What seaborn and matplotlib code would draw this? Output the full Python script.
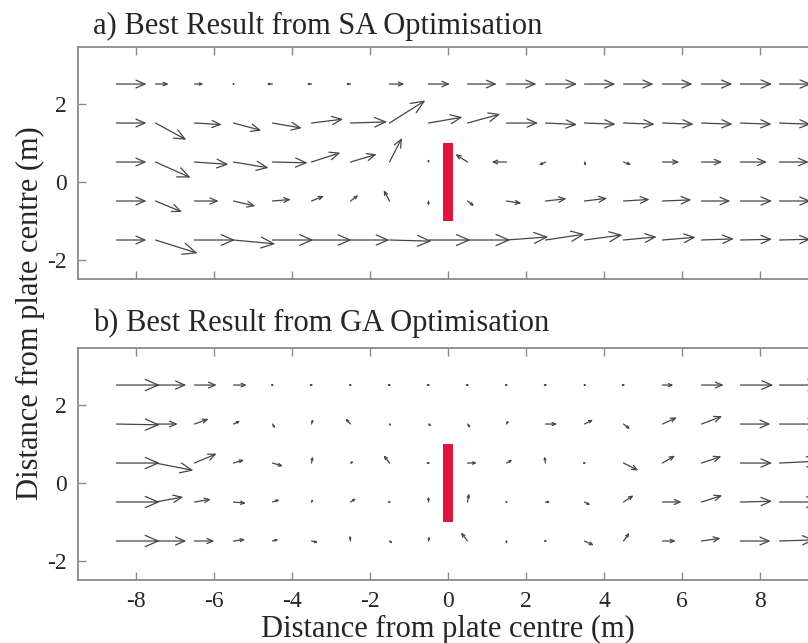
import matplotlib
matplotlib.use("Agg")
import matplotlib.pyplot as plt
from matplotlib.patches import Rectangle
import numpy as np
import seaborn as sns

# grid of measurement points (m)
x_cols = [-8.5, -7.5, -6.5, -5.5, -4.5, -3.5, -2.5, -1.5, -0.5,
          0.5, 1.5, 2.5, 3.5, 4.5, 5.5, 6.5, 7.5, 8.5]
y_rows = [2.5, 1.5, 0.5, -0.5, -1.5]

# velocity components, one list per row (top row first)
sa_u = [
    [0.77, 0.34, 0.23, 0.02, -0.15, -0.12, -0.12, 0.38, 0.55, 0.75, 0.77, 0.81, 0.79, 0.77, 0.77, 0.79, 0.81, 0.81],
    [0.77, 0.79, 0.70, 0.71, 0.75, 0.81, 0.94, 0.92, 0.87, 0.84, 0.81, 0.81, 0.80, 0.80, 0.80, 0.80, 0.80, 0.80],
    [0.77, 0.90, 0.87, 0.90, 0.90, 0.74, 0.67, 0.32, 0.00, -0.31, -0.38, -0.17, 0.03, 0.20, 0.43, 0.53, 0.68, 0.75],
    [0.77, 0.68, 0.62, 0.56, 0.47, 0.32, 0.20, -0.15, 0.00, 0.17, 0.38, 0.54, 0.58, 0.67, 0.74, 0.74, 0.81, 0.80],
    [0.77, 1.08, 1.04, 1.07, 1.05, 1.03, 1.00, 1.08, 1.08, 1.10, 1.07, 1.00, 0.97, 0.85, 0.85, 0.83, 0.81, 0.80],
]
sa_v = [
    [0.00, 0.00, 0.00, 0.04, 0.00, 0.00, 0.00, 0.00, 0.00, 0.00, 0.00, 0.00, 0.00, 0.00, 0.00, 0.00, 0.00, 0.00],
    [0.00, -0.43, -0.04, -0.19, -0.13, 0.10, 0.03, 0.58, 0.15, 0.23, 0.00, -0.04, -0.03, -0.03, -0.03, -0.03, -0.03, -0.03],
    [0.00, -0.40, -0.06, -0.15, -0.02, 0.24, 0.20, 0.62, 0.08, 0.20, 0.00, -0.08, -0.10, -0.07, 0.00, 0.00, 0.00, 0.00],
    [0.00, -0.28, 0.00, -0.13, 0.04, 0.13, 0.15, 0.28, -0.12, -0.13, -0.06, 0.06, 0.07, 0.04, 0.03, 0.00, 0.00, 0.00],
    [0.00, -0.34, 0.00, -0.10, 0.00, 0.00, 0.00, -0.03, 0.00, 0.00, 0.08, 0.15, 0.13, 0.08, 0.07, 0.03, 0.02, 0.02],
]
ga_u = [
    [1.11, 0.79, 0.57, 0.34, 0.03, 0.02, 0.03, 0.02, 0.02, 0.02, 0.03, 0.02, 0.05, 0.02, 0.28, 0.57, 0.84, 1.10],
    [1.11, 0.57, 0.36, 0.17, 0.07, 0.04, -0.13, 0.05, 0.08, 0.08, 0.05, 0.30, 0.22, 0.17, 0.37, 0.53, 0.77, 1.10],
    [1.11, 0.97, 0.57, 0.27, 0.27, 0.03, 0.08, -0.15, 0.02, 0.24, 0.15, -0.03, 0.03, 0.38, 0.32, 0.51, 0.81, 1.05],
    [1.11, 0.71, 0.42, 0.32, 0.18, 0.04, 0.14, 0.03, 0.00, 0.04, 0.03, 0.12, 0.15, 0.26, 0.49, 0.53, 0.81, 1.05],
    [1.11, 0.79, 0.51, 0.30, 0.15, 0.17, -0.02, 0.08, 0.02, -0.17, 0.00, 0.03, 0.24, 0.15, 0.34, 0.49, 0.77, 0.90],
]
ga_v = [
    [0.00, 0.00, 0.00, 0.00, 0.00, 0.00, 0.00, 0.00, 0.00, 0.00, 0.00, 0.00, 0.00, 0.00, 0.00, 0.00, 0.00, 0.00],
    [-0.02, 0.00, 0.13, 0.08, -0.11, 0.13, 0.14, -0.05, -0.05, -0.10, 0.10, 0.00, 0.11, -0.13, 0.17, 0.20, 0.00, 0.00],
    [0.00, -0.19, 0.24, 0.08, -0.08, 0.17, 0.04, 0.20, 0.00, 0.00, 0.08, 0.17, 0.00, -0.19, 0.19, 0.17, 0.00, 0.05],
    [0.00, 0.13, 0.07, -0.03, 0.06, 0.07, 0.09, 0.00, 0.14, 0.22, -0.03, 0.00, -0.08, 0.17, 0.00, 0.17, 0.02, 0.00],
    [0.00, 0.00, 0.00, 0.04, 0.04, -0.04, 0.14, -0.06, 0.12, 0.22, -0.07, 0.00, -0.11, 0.21, 0.00, 0.07, 0.00, 0.03],
]

panel_titles = ["a) Best Result from SA Optimisation",
                "b) Best Result from GA Optimisation"]
x_ticks = [-8, -6, -4, -2, 0, 2, 4, 6, 8]
y_ticks = [-2, 0, 2]
axis_label = "Distance from plate centre (m)"

# flat plate: centred at the origin, 2 m tall
plate_x, plate_half_width = 0.0, 0.13
plate_y0, plate_y1 = -1.0, 1.0

sns.set_style("white")
plt.rcParams["font.family"] = ["Liberation Serif", "DejaVu Serif"]
plt.rcParams["axes.unicode_minus"] = False

fig = plt.figure(figsize=(8.08, 6.43), dpi=100)
W, H = 808.0, 643.0
# axes extend past the right edge of the canvas
ax_a = fig.add_axes([77.5 / W, 1 - 279 / H, 741 / W, 232 / H])
ax_b = fig.add_axes([77.5 / W, 1 - 580 / H, 741 / W, 232 / H])

PT_PER_UNIT = 28.1
ARROW_COLOR = "#454545"
SPINE_COLOR = "#8a8a8a"


def draw_field(ax, u_rows, v_rows):
    for j, y in enumerate(y_rows):
        for i, x in enumerate(x_cols):
            u = u_rows[j][i]
            v = v_rows[j][i]
            mag = float(np.hypot(u, v))
            if mag < 1e-3:
                continue
            hl = 0.30 * mag * PT_PER_UNIT
            hw = 0.13 * mag * PT_PER_UNIT
            ax.annotate(
                "", xy=(x + u, y + v), xytext=(x, y),
                xycoords="data", textcoords="data",
                arrowprops=dict(
                    arrowstyle=f"->,head_length={hl:.2f},head_width={hw:.2f}",
                    color=ARROW_COLOR, lw=0.9, shrinkA=0, shrinkB=0,
                    mutation_scale=1,
                ),
                annotation_clip=False,
            )


def style_axes(ax, show_xlabels):
    ax.set_xlim(-9.5, 9.5)
    ax.set_ylim(-2.5, 3.45)
    ax.set_xticks(x_ticks)
    ax.set_yticks(y_ticks)
    ax.tick_params(direction="in", length=6, width=1.0, color=SPINE_COLOR,
                   top=True, right=True, bottom=True, left=True,
                   labelsize=17, pad=8)
    if not show_xlabels:
        ax.tick_params(labelbottom=False)
    for s in ax.spines.values():
        s.set_color(SPINE_COLOR)
        s.set_linewidth(1.3)
    ax.add_patch(Rectangle((plate_x - plate_half_width, plate_y0),
                           2 * plate_half_width, plate_y1 - plate_y0,
                           facecolor="#e0143c", edgecolor="none", zorder=3))


style_axes(ax_a, False)
style_axes(ax_b, True)
draw_field(ax_a, sa_u, sa_v)
draw_field(ax_b, ga_u, ga_v)

ax_b.set_xlabel(axis_label, fontsize=22, labelpad=2)
fig.text(93 / W, 1 - 34 / H, panel_titles[0], fontsize=22,
         ha="left", va="baseline")
fig.text(93 / W, 1 - 331 / H, panel_titles[1], fontsize=22,
         ha="left", va="baseline")
fig.text(30 / W, 1 - 313 / H, axis_label, fontsize=22, rotation=90,
         ha="center", va="center")

fig.savefig("out.png", dpi=100)
